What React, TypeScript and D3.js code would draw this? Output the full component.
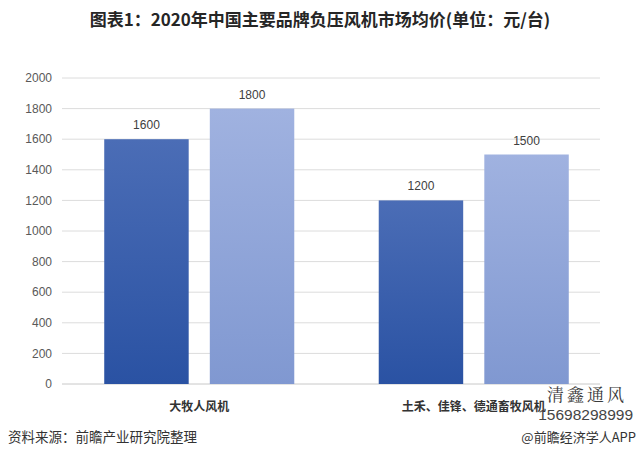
import React from "react";
import * as d3 from "d3";

const title = "图表1：2020年中国主要品牌负压风机市场均价(单位：元/台)";
const categories = ["大牧人风机", "土禾、佳锋、德通畜牧风机"];
const seriesA = [1600, 1200];
const seriesB = [1800, 1500];
const yTicks = [0, 200, 400, 600, 800, 1000, 1200, 1400, 1600, 1800, 2000];
const source = "资料来源：前瞻产业研究院整理";
const credit = "@前瞻经济学人APP";
const stampName = "清鑫通风";
const stampPhone = "15698298999";

const W = 640;
const H = 459;

export default function App() {
  const x0 = d3.scaleBand<string>().domain(categories).range([62, 611]).paddingInner(0).paddingOuter(0);
  const x1 = d3.scaleBand<string>().domain(["a", "b"]).range([0, x0.bandwidth()]).paddingInner(0.2).paddingOuter(0.4);
  const y = d3.scaleLinear().domain([0, 2000]).range([384, 78]);
  const font = "'Noto Sans CJK SC', 'Noto Sans', sans-serif";
  const series = [
    { key: "a", values: seriesA, grad: "gradA" },
    { key: "b", values: seriesB, grad: "gradB" },
  ];
  return (
    <svg width={W} height={H} style={{ position: "absolute", left: 0, top: 0, background: "#fff" }} fontFamily={font}>
      <defs>
        <linearGradient id="gradA" x1="0" y1="0" x2="0" y2="1">
          <stop offset="0%" stopColor="#4b6db6" />
          <stop offset="100%" stopColor="#2a52a3" />
        </linearGradient>
        <linearGradient id="gradB" x1="0" y1="0" x2="0" y2="1">
          <stop offset="0%" stopColor="#a0b2e0" />
          <stop offset="100%" stopColor="#8098d1" />
        </linearGradient>
      </defs>
      <rect width={W} height={H} fill="#fff" />
      <text x={320} y={26} textAnchor="middle" fontSize={17} fontWeight="bold" fill="#262626">{title}</text>
      {yTicks.map((t) => (
        <g key={t}>
          <line x1={62} x2={600} y1={y(t)} y2={y(t)} stroke={t === 0 ? "#c8c8c8" : "#dcdcdc"} strokeWidth={1} />
          <text x={52} y={y(t)} dy="0.35em" textAnchor="end" fontSize={12} fill="#595959" fontFamily="'Liberation Sans', 'DejaVu Sans', sans-serif">{t}</text>
        </g>
      ))}
      {categories.map((c, i) => (
        <g key={c} transform={`translate(${x0(c)},0)`}>
          {series.map((s) => {
            const v = s.values[i];
            const bx = x1(s.key)!;
            const bw = x1.bandwidth();
            return (
              <g key={s.key}>
                <rect x={bx} y={y(v)} width={bw} height={y(0) - y(v)} fill={`url(#${s.grad})`} />
                <text x={bx + bw / 2} y={y(v) - 10} textAnchor="middle" fontSize={12} fill="#404040" fontFamily="'Liberation Sans', 'DejaVu Sans', sans-serif">{v}</text>
              </g>
            );
          })}
          <text x={x0.bandwidth() / 2} y={411} textAnchor="middle" fontSize={12} fontWeight="bold" fill="#333">{c}</text>
        </g>
      ))}
      <text x={8} y={442} fontSize={13.5} fill="#333">{source}</text>
      <text x={636} y={442} textAnchor="end" fontSize={13} fill="#333">{credit}</text>
      <text x={587} y={401} textAnchor="middle" fontSize={17} fill="#3a3a3a" fontFamily="'Noto Serif CJK SC', serif" letterSpacing={3}>{stampName}</text>
      <text x={633} y={420} textAnchor="end" fontSize={15.5} fill="#444" fontFamily="'Liberation Sans', sans-serif">{stampPhone}</text>
    </svg>
  );
}
